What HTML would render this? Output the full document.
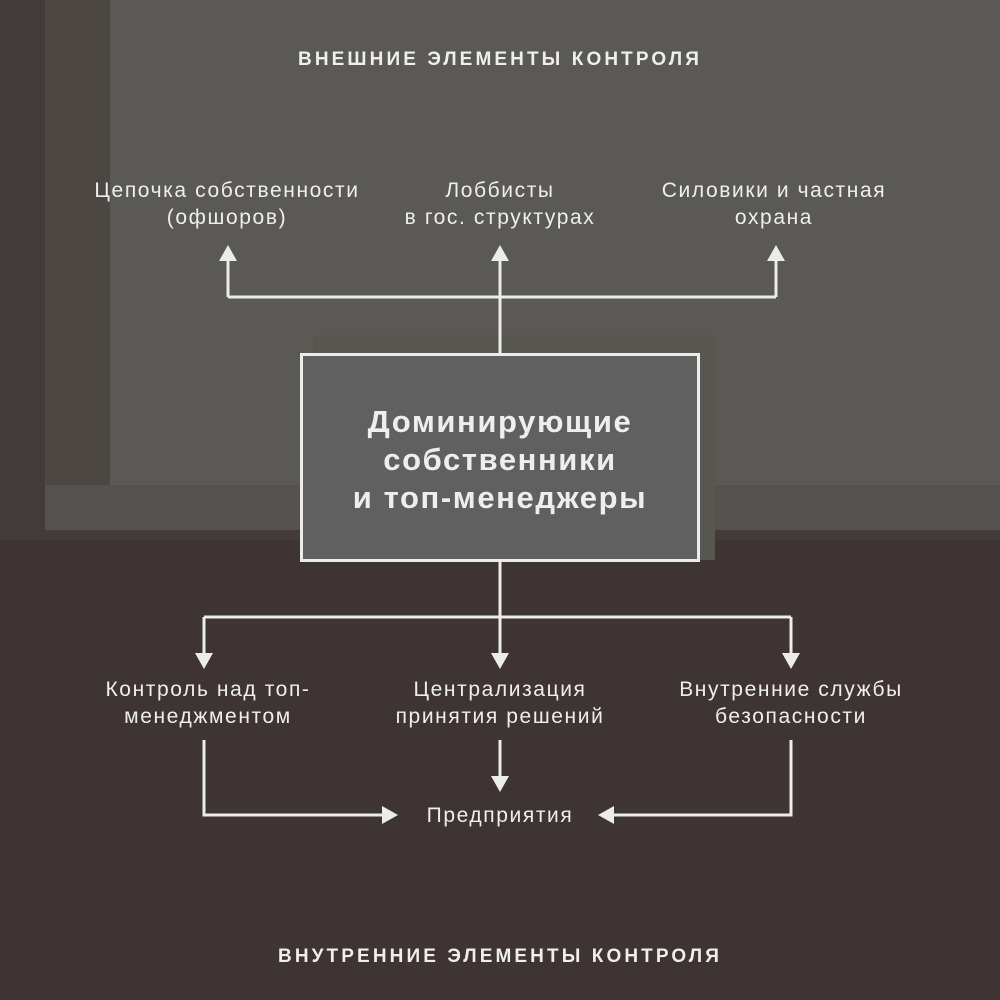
<!DOCTYPE html>
<html><head><meta charset="utf-8"><style>
html,body{margin:0;padding:0}
body{width:1000px;height:1000px;position:relative;overflow:hidden;background:#3e3434;font-family:"Liberation Sans",sans-serif;color:#eee}
.abs{position:absolute}
.t{position:absolute;text-align:center;font-size:21px;line-height:27px;letter-spacing:1.6px;transform:translateX(-50%);white-space:nowrap}
.h{position:absolute;left:0;width:1000px;text-align:center;font-weight:bold;font-size:19px;letter-spacing:3.1px}
</style></head><body>
<div class="abs" style="left:0;top:0;width:1000px;height:540px;background:#433a3a"></div>
<div class="abs" style="left:45px;top:0;width:70px;height:530px;background:#4d4744"></div>
<div class="abs" style="left:110px;top:0;width:890px;height:485px;background:#5a5955"></div>
<div class="abs" style="left:45px;top:485px;width:955px;height:45px;background:#55514e"></div>
<div class="abs" style="left:313px;top:335px;width:402px;height:225px;background:#57574f"></div>
<div class="abs" style="left:300px;top:353px;width:394px;height:203px;border:3px solid #ececec;background:#606060"></div>
<div class="h" style="top:49px">ВНЕШНИЕ ЭЛЕМЕНТЫ КОНТРОЛЯ</div>
<div class="h" style="top:946px">ВНУТРЕННИЕ ЭЛЕМЕНТЫ КОНТРОЛЯ</div>
<div class="t" style="left:500px;top:403px;font-size:31px;line-height:38px;letter-spacing:1.6px;font-weight:bold">Доминирующие<br>собственники<br>и топ-менеджеры</div>
<div class="t" style="left:227px;top:177px">Цепочка собственности<br>(офшоров)</div>
<div class="t" style="left:500px;top:177px">Лоббисты<br>в гос. структурах</div>
<div class="t" style="left:774px;top:177px">Силовики и частная<br>охрана</div>
<div class="t" style="left:208px;top:676px">Контроль над топ-<br>менеджментом</div>
<div class="t" style="left:500px;top:676px">Централизация<br>принятия решений</div>
<div class="t" style="left:791px;top:676px">Внутренние службы<br>безопасности</div>
<div class="t" style="left:500px;top:802px">Предприятия</div>
<svg class="abs" style="left:0;top:0" width="1000" height="1000">
<g stroke="#ececec" stroke-width="3" fill="none">
<path d="M500 353V297M228 297H776M228 297V258M500 297V258M776 297V258"/>
<path d="M500 562V617M204 617H791M204 617V655M500 617V655M791 617V655"/>
<path d="M204 740V815H385M500 740V778M791 740V815H612"/>
</g>
<g fill="#ececec">
<path d="M219 261L228 245L237 261Z M491 261L500 245L509 261Z M767 261L776 245L785 261Z"/>
<path d="M195 653L204 669L213 653Z M491 653L500 669L509 653Z M782 653L791 669L800 653Z"/>
<path d="M491 776L500 792L509 776Z M382 806L398 815L382 824Z M614 806L598 815L614 824Z"/>
</g>
</svg>
</body></html>
